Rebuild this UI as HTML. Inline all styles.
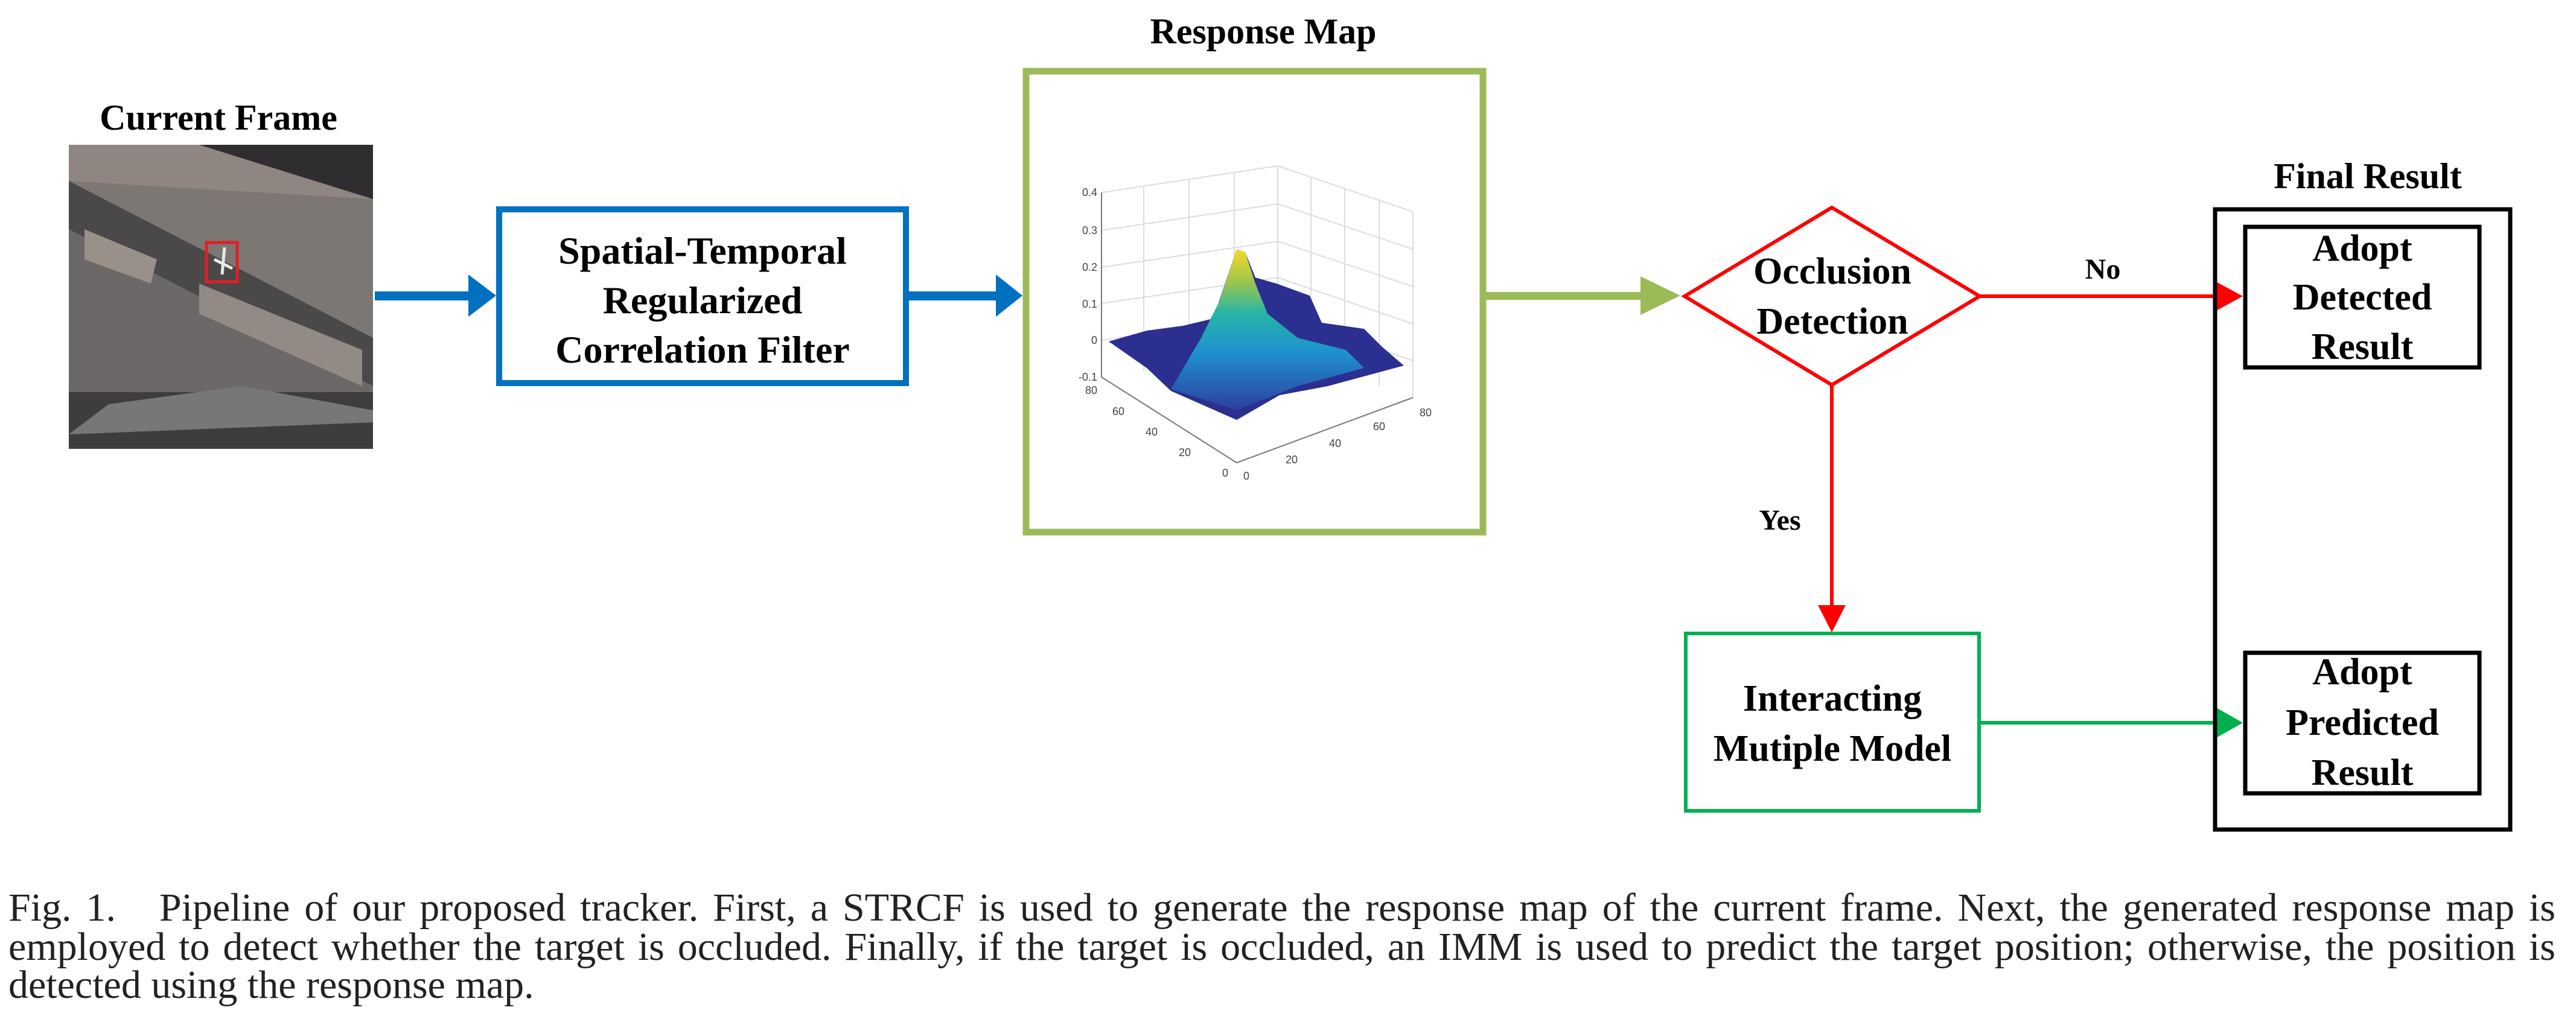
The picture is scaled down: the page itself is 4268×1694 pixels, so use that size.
<!DOCTYPE html>
<html><head><meta charset="utf-8"><style>
html,body{margin:0;padding:0;background:#fff;}
body{width:4268px;height:1694px;overflow:hidden;position:relative;}
svg{position:absolute;left:0;top:0;}
.cl{position:absolute;left:14px;width:4220px;font-family:"Liberation Serif",serif;font-size:66px;line-height:64px;color:#222;text-align:justify;text-align-last:justify;white-space:nowrap;}
.cl.last{text-align-last:left;}
</style></head><body>
<svg width="4268" height="1694" viewBox="0 0 4268 1694" xmlns="http://www.w3.org/2000/svg">
<defs>
<linearGradient id="pk" x1="0" y1="1" x2="0" y2="0">
<stop offset="0" stop-color="#2c3f9e"/><stop offset="0.35" stop-color="#1f8fd0"/><stop offset="0.6" stop-color="#27b5a8"/><stop offset="0.8" stop-color="#9cc64a"/><stop offset="1" stop-color="#f7d92a"/>
</linearGradient>
<clipPath id="img"><rect x="114" y="240" width="504" height="504"/></clipPath>
</defs>
<g font-family="Liberation Serif, serif" font-weight="bold" fill="#000" text-anchor="middle">
<text x="362" y="215" font-size="60">Current Frame</text>
<text x="2093" y="72" font-size="60">Response Map</text>
<text x="3923" y="312" font-size="60">Final Result</text>
</g>
<g clip-path="url(#img)">
<rect x="114" y="240" width="504" height="504" fill="#7d7773"/>
<polygon points="114,240 618,240 618,330 114,300" fill="#8f8681"/>
<polygon points="114,300 618,560 618,640 114,380" fill="#4a4849"/>
<polygon points="114,380 618,640 618,744 114,744" fill="#6c6867"/>
<polygon points="330,240 618,240 618,330" fill="#2f2d2f"/>
<polygon points="140,380 260,430 250,470 140,430" fill="#999089"/>
<polygon points="330,470 600,580 600,640 330,520" fill="#928a84"/>
<polygon points="114,650 618,650 618,744 114,744" fill="#3f3c3d"/>
<polygon points="180,670 400,640 618,680 618,700 114,720" fill="#777"/>
</g>
<rect x="342" y="402" width="51" height="65" fill="none" stroke="#e31e24" stroke-width="5"/>
<path d="M372,410 L368,455 M355,430 L385,445" stroke="#e8e8e8" stroke-width="5"/>
<g fill="#0070c0">
<rect x="621" y="483" width="160" height="15"/>
<polygon points="776,455 822,490 776,525"/>
<rect x="1505" y="483" width="150" height="15"/>
<polygon points="1650,455 1694,490 1650,525"/>
</g>
<rect x="827" y="347" width="674" height="288" fill="none" stroke="#0070c0" stroke-width="10"/>
<g font-family="Liberation Serif, serif" font-weight="bold" fill="#000" text-anchor="middle" font-size="64">
<text x="1164" y="437">Spatial-Temporal</text>
<text x="1164" y="519">Regularized</text>
<text x="1164" y="601">Correlation Filter</text>
</g>
<rect x="1700" y="118" width="757" height="764" fill="none" stroke="#9bbb59" stroke-width="11"/>
<g stroke="#ddd" stroke-width="2" fill="none">
<line x1="1825" y1="319" x2="2117" y2="275"/><line x1="2117" y1="275" x2="2341" y2="351"/>
<line x1="1825" y1="382" x2="2117" y2="338"/><line x1="2117" y1="338" x2="2341" y2="413"/>
<line x1="1825" y1="443" x2="2117" y2="400"/><line x1="2117" y1="400" x2="2341" y2="475"/>
<line x1="1825" y1="503" x2="2117" y2="460"/><line x1="2117" y1="460" x2="2341" y2="537"/>
<line x1="1825" y1="564" x2="2117" y2="520"/><line x1="2117" y1="520" x2="2341" y2="598"/>
<line x1="2117" y1="275" x2="2117" y2="580"/><line x1="2341" y1="351" x2="2341" y2="659"/>
<line x1="1895" y1="310" x2="1895" y2="615"/><line x1="1970" y1="298" x2="1970" y2="604"/><line x1="2045" y1="287" x2="2045" y2="593"/>
<line x1="2172" y1="294" x2="2172" y2="600"/><line x1="2228" y1="312" x2="2228" y2="620"/><line x1="2285" y1="331" x2="2285" y2="640"/>
</g>
<g stroke="#777" stroke-width="2" fill="none">
<line x1="1825" y1="319" x2="1825" y2="625"/>
<line x1="1825" y1="625" x2="2049" y2="767"/>
<line x1="2049" y1="767" x2="2341" y2="659"/>
</g>
<polygon points="1837,566 1900,548 1960,540 2010,528 2049,413 2063,418 2080,460 2115,470 2170,490 2190,535 2260,545 2290,575 2326,606 2200,640 2120,655 2049,696 1990,670 1940,648 1900,610" fill="#2b2f8f"/>
<polygon points="1940,645 1990,560 2020,500 2049,413 2063,418 2080,470 2100,520 2150,560 2230,580 2260,610 2150,640 2049,680" fill="url(#pk)"/>
<g font-family="Liberation Sans, sans-serif" font-size="18" fill="#444" text-anchor="end">
<text x="1818" y="325">0.4</text><text x="1818" y="388">0.3</text><text x="1818" y="449">0.2</text><text x="1818" y="510">0.1</text><text x="1818" y="570">0</text><text x="1818" y="631">-0.1</text>
<text x="1818" y="653">80</text><text x="1863" y="688">60</text><text x="1918" y="722">40</text><text x="1973" y="756">20</text><text x="2035" y="790">0</text>
<text x="2070" y="795">0</text><text x="2150" y="768">20</text><text x="2222" y="741">40</text><text x="2295" y="713">60</text><text x="2372" y="690">80</text>
</g>
<rect x="2462" y="484" width="290" height="13" fill="#9bbb59"/>
<polygon points="2718,458 2784,490 2718,522" fill="#9bbb59"/>
<polygon points="2791,491 3035,344 3280,491 3035,638" fill="#fff" stroke="#ff0000" stroke-width="6"/>
<g font-family="Liberation Serif, serif" font-weight="bold" fill="#000" text-anchor="middle" font-size="62">
<text x="3036" y="470">Occlusion</text>
<text x="3036" y="553">Detection</text>
</g>
<line x1="3280" y1="491" x2="3680" y2="491" stroke="#ff0000" stroke-width="6"/>
<polygon points="3670,466 3716,491 3670,516" fill="#ff0000"/>
<text x="3484" y="462" font-family="Liberation Serif, serif" font-weight="bold" font-size="48" text-anchor="middle">No</text>
<line x1="3035" y1="638" x2="3035" y2="1010" stroke="#ff0000" stroke-width="6"/>
<polygon points="3012,1003 3035,1048 3058,1003" fill="#ff0000"/>
<text x="2949" y="878" font-family="Liberation Serif, serif" font-weight="bold" font-size="48" text-anchor="middle">Yes</text>
<rect x="2793" y="1050" width="486" height="294" fill="none" stroke="#00b050" stroke-width="6"/>
<g font-family="Liberation Serif, serif" font-weight="bold" fill="#000" text-anchor="middle" font-size="62">
<text x="3036" y="1178">Interacting</text>
<text x="3036" y="1261">Mutiple Model</text>
</g>
<line x1="3281" y1="1198" x2="3680" y2="1198" stroke="#00b050" stroke-width="6"/>
<polygon points="3672,1173 3716,1198 3672,1223" fill="#00b050"/>
<rect x="3670" y="347" width="489" height="1028" fill="none" stroke="#000" stroke-width="7"/>
<rect x="3720" y="376" width="388" height="233" fill="none" stroke="#000" stroke-width="7"/>
<rect x="3720" y="1082" width="388" height="233" fill="none" stroke="#000" stroke-width="7"/>
<g font-family="Liberation Serif, serif" font-weight="bold" fill="#000" text-anchor="middle" font-size="62">
<text x="3914" y="432">Adopt</text><text x="3914" y="513">Detected</text><text x="3914" y="595">Result</text>
<text x="3914" y="1134">Adopt</text><text x="3914" y="1218">Predicted</text><text x="3914" y="1301">Result</text>
</g>
</svg>
<div class="cl" style="top:1473px">Fig. 1.&nbsp;&nbsp; Pipeline of our proposed tracker. First, a STRCF is used to generate the response map of the current frame. Next, the generated response map is</div>
<div class="cl" style="top:1538px">employed to detect whether the target is occluded. Finally, if the target is occluded, an IMM is used to predict the target position; otherwise, the position is</div>
<div class="cl last" style="top:1601px">detected using the response map.</div>
</body></html>
